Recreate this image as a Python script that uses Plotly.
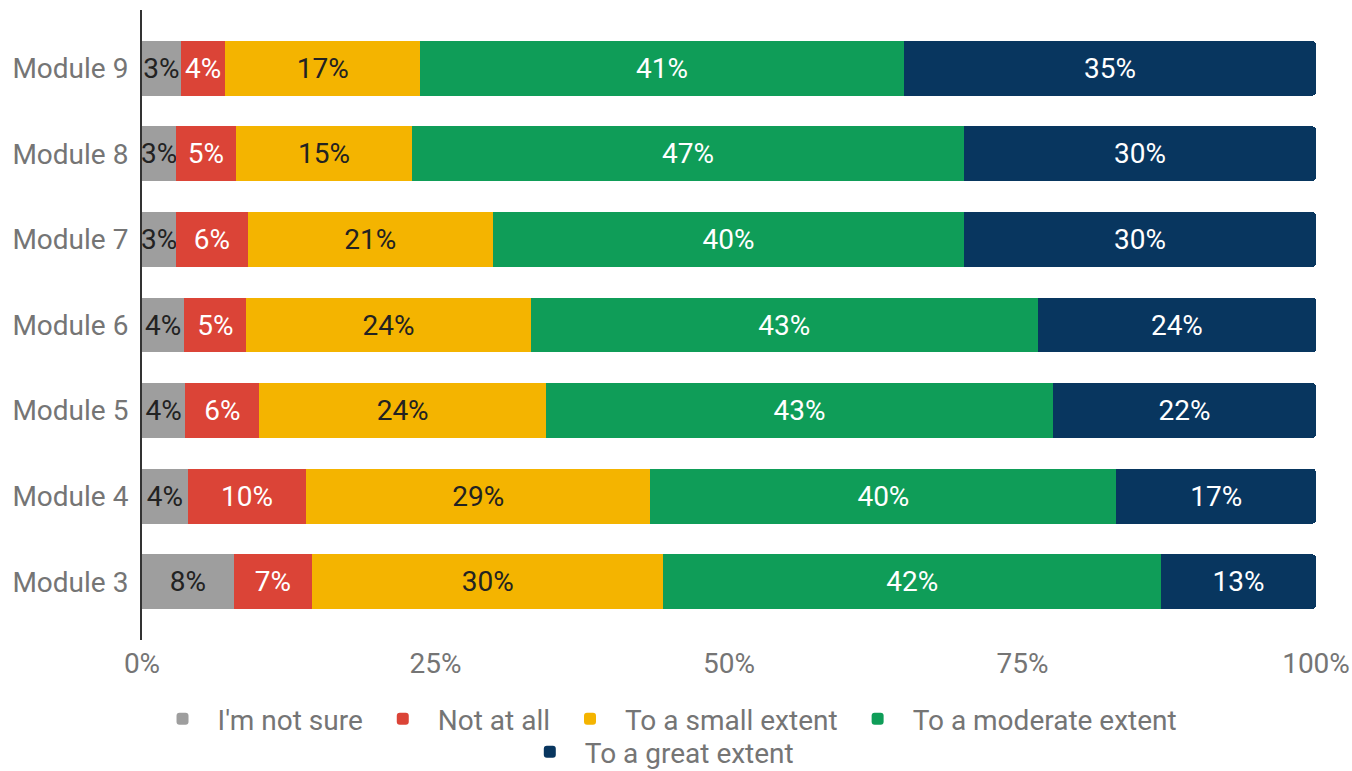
import plotly.graph_objects as go

modules = ["Module 9", "Module 8", "Module 7", "Module 6", "Module 5", "Module 4", "Module 3"]
series_names = ["I'm not sure", "Not at all", "To a small extent", "To a moderate extent", "To a great extent"]

not_sure = [3.3, 2.9, 2.9, 3.6, 3.7, 3.9, 7.8]
not_at_all = [3.8, 5.1, 6.1, 5.3, 6.3, 10.1, 6.7]
small_extent = [16.6, 15.0, 20.9, 24.2, 24.4, 29.3, 29.9]
moderate_extent = [41.2, 47.0, 40.1, 43.2, 43.2, 39.7, 42.4]
great_extent = [35.1, 30.0, 30.0, 23.7, 22.4, 17.0, 13.2]

x_tick_vals = [0, 25, 50, 75, 100]
x_tick_labels = ["0%", "25%", "50%", "75%", "100%"]

colors = ["#9E9E9E", "#DB4437", "#F4B400", "#0F9D58", "#08365F"]
text_colors = ["#222222", "#FFFFFF", "#222222", "#FFFFFF", "#FFFFFF"]
values = [not_sure, not_at_all, small_extent, moderate_extent, great_extent]
legends = ["legend", "legend", "legend", "legend", "legend2"]

FONT = "Roboto, Arial, sans-serif"
FS = 28

fig = go.Figure()
for name, vals, c, tc, lg in zip(series_names, values, colors, text_colors, legends):
    fig.add_trace(go.Bar(
        y=modules, x=vals, name=name, orientation="h",
        marker=dict(color=c, line=dict(width=0)),
        texttemplate="%{x:.0f}%", textposition="inside",
        insidetextanchor="middle", textangle=0,
        textfont=dict(color=tc, size=FS, family=FONT),
        legend=lg,
    ))

top, bottom = 10, 640
H = 771
def cy(pix):
    return (H - pix) / H

fig.update_layout(
    width=1352, height=771,
    barmode="stack", bargap=0.36, barcornerradius=4,
    plot_bgcolor="white", paper_bgcolor="white",
    margin=dict(l=142, r=36, t=top, b=H - bottom, pad=0, autoexpand=False),
    font=dict(family=FONT, size=FS, color="#757575"),
    uniformtext=dict(minsize=FS, mode="show"),
    xaxis=dict(range=[0, 100], tickmode="array", tickvals=x_tick_vals,
               ticktext=x_tick_labels,
               showgrid=False, zeroline=False, showline=False,
               ticks="", ticklabelstandoff=4, automargin=False,
               tickfont=dict(size=FS, color="#757575")),
    yaxis=dict(categoryorder="array", categoryarray=modules,
               range=[6.68, -0.68], showgrid=False, zeroline=False,
               showline=True, linecolor="#333333", linewidth=2,
               ticks="", ticklabelstandoff=6, automargin=False,
               tickfont=dict(size=FS, color="#757575")),
    legend=dict(orientation="h", x=0.4455, xanchor="center",
                yref="container", y=cy(719), yanchor="middle",
                itemwidth=60,
                font=dict(size=FS, color="#757575"),
                traceorder="normal", bgcolor="rgba(0,0,0,0)"),
    legend2=dict(orientation="h", x=0.4385, xanchor="center",
                 yref="container", y=cy(752), yanchor="middle",
                 itemwidth=60,
                 font=dict(size=FS, color="#757575"),
                 bgcolor="rgba(0,0,0,0)"),
)

fig.write_html("out.html")
